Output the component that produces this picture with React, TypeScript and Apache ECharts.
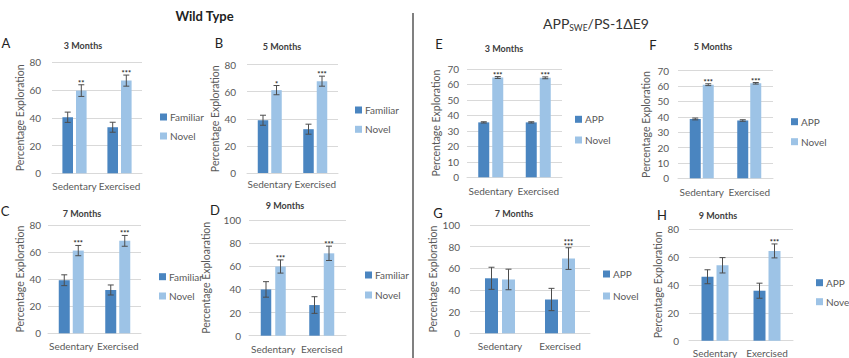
import React, { useEffect, useRef } from "react";
import * as echarts from "echarts";

const categories = ["Sedentary", "Exercised"];

// Wild Type panels
const aFamiliar = [40.4, 33.2];
const aFamiliarErr = [3.7, 3.6];
const aNovel = [59.6, 66.8];
const aNovelErr = [4.2, 4.0];
const aStars = ["**", "***"];

const bFamiliar = [38.9, 32.3];
const bFamiliarErr = [3.7, 3.7];
const bNovel = [61.1, 67.7];
const bNovelErr = [3.4, 3.7];
const bStars = ["*", "***"];

const cFamiliar = [39.2, 32.0];
const cFamiliarErr = [4.0, 3.7];
const cNovel = [61.1, 68.3];
const cNovelErr = [3.8, 4.0];
const cStars = ["***", "***"];

const dFamiliar = [40.0, 26.5];
const dFamiliarErr = [6.7, 7.2];
const dNovel = [59.8, 71.2];
const dNovelErr = [5.7, 6.2];
const dStars = ["***", "***"];

// APPswe/PS-1dE9 panels
const eApp = [35.5, 35.5];
const eAppErr = [0.4, 0.4];
const eNovel = [64.5, 64.3];
const eNovelErr = [0.6, 0.6];
const eStars = ["***", "***"];

const fApp = [38.6, 37.6];
const fAppErr = [0.6, 0.5];
const fNovel = [60.9, 61.8];
const fNovelErr = [0.6, 0.5];
const fStars = ["***", "***"];

const gApp = [50.8, 31.2];
const gAppErr = [10.2, 10.3];
const gNovel = [49.7, 69.0];
const gNovelErr = [9.5, 10.0];
const gStars = ["", "***\n***"];

const hApp = [45.8, 35.8];
const hAppErr = [5.0, 5.4];
const hNovel = [54.0, 64.3];
const hNovelErr = [5.5, 5.0];
const hStars = ["", "***"];

const panelLetters = ["A", "B", "C", "D", "E", "F", "G", "H"];
const panelTitles = ["3 Months", "5 Months", "7 Months", "9 Months", "3 Months", "5 Months", "7 Months", "9 Months"];
const yNames = [
  "Percentage Exploration",
  "Percentage Exploration",
  "Percentage Exploration",
  "Percentage Exploaration",
  "Percentage Exploration",
  "Percentage Exploration",
  "Percentage Exploration",
  "Percentage Exploration",
];
const yMax = [80, 80, 80, 100, 70, 70, 100, 80];
const yStep = [20, 20, 20, 20, 10, 10, 20, 20];

const wtHeader = "Wild Type";

const panels = [
  { dark: "Familiar", dv: aFamiliar, de: aFamiliarErr, nv: aNovel, ne: aNovelErr, stars: aStars },
  { dark: "Familiar", dv: bFamiliar, de: bFamiliarErr, nv: bNovel, ne: bNovelErr, stars: bStars },
  { dark: "Familiar", dv: cFamiliar, de: cFamiliarErr, nv: cNovel, ne: cNovelErr, stars: cStars },
  { dark: "Familiar", dv: dFamiliar, de: dFamiliarErr, nv: dNovel, ne: dNovelErr, stars: dStars },
  { dark: "APP", dv: eApp, de: eAppErr, nv: eNovel, ne: eNovelErr, stars: eStars },
  { dark: "APP", dv: fApp, de: fAppErr, nv: fNovel, ne: fNovelErr, stars: fStars },
  { dark: "APP", dv: gApp, de: gAppErr, nv: gNovel, ne: gNovelErr, stars: gStars },
  { dark: "APP", dv: hApp, de: hAppErr, nv: hNovel, ne: hNovelErr, stars: hStars },
];

// layout (positions/sizes only)
const layouts = [
  { grid: { left: 52, top: 62.3, width: 90, height: 111 }, bw: 10.6, gap: 3, ym: 11, ng: 25, xm: 8, letter: [6, 43], title: [83, 45], legend: { left: 160, top: 111, itemGap: 7 } },
  { grid: { left: 247, top: 64.5, width: 91, height: 108.5 }, bw: 10.5, gap: 3, ym: 11, ng: 26, xm: 6, letter: [219, 43], title: [282, 46], legend: { left: 355, top: 104, itemGap: 7.3 } },
  { grid: { left: 48, top: 225, width: 93, height: 108.3 }, bw: 11, gap: 3, ym: 7, ng: 22, xm: 8, letter: [5, 211], title: [82, 213], legend: { left: 159, top: 270.7, itemGap: 7.3 } },
  { grid: { left: 249, top: 220, width: 97, height: 115.7 }, bw: 10.5, gap: 4, ym: 8, ng: 38, xm: 8, letter: [215, 210], title: [285, 205], legend: { left: 365, top: 269, itemGap: 8 } },
  { grid: { left: 467, top: 69, width: 95, height: 108.3 }, bw: 11, gap: 3, ym: 8, ng: 26, xm: 9, letter: [439, 44], title: [504, 48], legend: { left: 575, top: 113.3, itemGap: 8.7 } },
  { grid: { left: 678, top: 70.7, width: 95, height: 107.6 }, bw: 11, gap: 2, ym: 9, ng: 27, xm: 9, letter: [653, 45], title: [713, 46], legend: { left: 791, top: 115.7, itemGap: 8 } },
  { grid: { left: 470, top: 225, width: 120, height: 108.3 }, bw: 13, gap: 4, ym: 10, ng: 29, xm: 8, letter: [438, 213], title: [514, 213], legend: { left: 603, top: 268, itemGap: 10 } },
  { grid: { left: 689, top: 229, width: 104, height: 111.7 }, bw: 12, gap: 3, ym: 10, ng: 26, xm: 7, letter: [662, 215], title: [718, 215], legend: { left: 816, top: 276.7, itemGap: 7 } },
];

const DARK = "#4A85C0";
const LIGHT = "#9DC3E6";
const TXT = "#595959";
const GRIDC = "#D9D9D9";
const FONT = "Lato";

function buildOption() {
  const grids: any[] = [];
  const xAxes: any[] = [];
  const yAxes: any[] = [];
  const series: any[] = [];
  const legends: any[] = [];
  const graphics: any[] = [];

  panels.forEach((p, i) => {
    const L = layouts[i];
    grids.push({ ...L.grid, containLabel: false });
    xAxes.push({
      type: "category",
      gridIndex: i,
      data: categories,
      axisLine: { show: true, lineStyle: { color: GRIDC, width: 1 } },
      axisTick: { show: false },
      axisLabel: { interval: 0, color: TXT, fontSize: 10, fontFamily: FONT, margin: L.xm },
      splitLine: { show: false },
    });
    yAxes.push({
      type: "value",
      gridIndex: i,
      min: 0,
      max: yMax[i],
      interval: yStep[i],
      axisLine: { show: false },
      axisTick: { show: false },
      axisLabel: { color: TXT, fontSize: 10, fontFamily: FONT, margin: L.ym },
      splitLine: { show: true, lineStyle: { color: GRIDC, width: 1 } },
      name: yNames[i],
      nameLocation: "middle",
      nameGap: L.ng,
      nameTextStyle: { color: TXT, fontSize: 10.5, fontFamily: FONT },
    });
    const gapPct = (L.gap / L.bw) * 100 + "%";
    series.push({
      type: "bar",
      name: p.dark,
      xAxisIndex: i,
      yAxisIndex: i,
      data: p.dv,
      barWidth: L.bw,
      barGap: gapPct,
      itemStyle: { color: DARK },
    });
    series.push({
      type: "bar",
      name: "Novel",
      xAxisIndex: i,
      yAxisIndex: i,
      data: p.nv,
      barWidth: L.bw,
      barGap: gapPct,
      itemStyle: { color: LIGHT },
    });
    const errData: number[][] = [];
    const vals = [p.dv, p.nv];
    const errs = [p.de, p.ne];
    for (let s = 0; s < 2; s++) {
      for (let c = 0; c < 2; c++) {
        errData.push([c, vals[s][c], errs[s][c], s]);
      }
    }
    const stars = p.stars;
    const half = (L.bw + L.gap) / 2;
    series.push({
      type: "custom",
      xAxisIndex: i,
      yAxisIndex: i,
      data: errData,
      encode: { x: 0, y: 1 },
      z: 10,
      silent: true,
      renderItem: (params: any, api: any) => {
        const c = api.value(0);
        const v = api.value(1);
        const e = api.value(2);
        const s = api.value(3);
        const base = api.coord([c, v]);
        const x = base[0] + (s === 0 ? -half : half);
        const yt = api.coord([c, v + e])[1];
        const yb = api.coord([c, v - e])[1];
        const cap = 3;
        const ls = { stroke: "#4D4D4D", lineWidth: 1 };
        const children: any[] = [
          { type: "line", shape: { x1: x, y1: yt, x2: x, y2: yb }, style: ls },
          { type: "line", shape: { x1: x - cap, y1: yt, x2: x + cap, y2: yt }, style: ls },
          { type: "line", shape: { x1: x - cap, y1: yb, x2: x + cap, y2: yb }, style: ls },
        ];
        const st = s === 1 ? stars[c] : "";
        if (st) {
          children.push({
            type: "text",
            x: x,
            y: yt + 0.5,
            style: {
              text: st,
              fill: "#262626",
              fontSize: 7.5,
              fontWeight: "bold",
              fontFamily: FONT,
              align: "center",
              verticalAlign: "bottom",
              lineHeight: 4,
            },
          });
        }
        return { type: "group", children };
      },
    });
    legends.push({
      orient: "vertical",
      left: L.legend.left,
      top: L.legend.top,
      itemGap: L.legend.itemGap,
      itemWidth: 7,
      itemHeight: 7,
      padding: 0,
      icon: "rect",
      data: [p.dark, "Novel"],
      textStyle: { color: TXT, fontSize: 10, fontFamily: FONT, lineHeight: 12, padding: [0, 0, 0, -2] },
    });
    graphics.push({
      type: "text",
      x: L.letter[0],
      y: L.letter[1],
      style: { text: panelLetters[i], fill: "#222", fontSize: 13, fontFamily: FONT, align: "center", verticalAlign: "middle" },
    });
    graphics.push({
      type: "text",
      x: L.title[0],
      y: L.title[1],
      style: { text: panelTitles[i], fill: "#404040", fontSize: 9, fontWeight: "bold", fontFamily: FONT, align: "center", verticalAlign: "middle" },
    });
  });

  graphics.push({
    type: "text",
    x: 204.5,
    y: 16,
    style: { text: wtHeader, fill: "#222", fontSize: 13, fontWeight: "bold", fontFamily: FONT, align: "center", verticalAlign: "middle" },
  });
  graphics.push({
    type: "text",
    x: 543,
    y: 23,
    style: {
      text: "{a|APP}{s|SWE}{a|/PS-1ΔE9}",
      align: "left",
      verticalAlign: "middle",
      rich: {
        a: { fontSize: 14, fontFamily: FONT, fill: "#333", lineHeight: 18, verticalAlign: "middle" },
        s: { fontSize: 8.5, fontFamily: FONT, fill: "#333", lineHeight: 10, verticalAlign: "bottom" },
      },
    },
  });
  graphics.push({
    type: "line",
    shape: { x1: 413, y1: 13, x2: 413, y2: 358 },
    style: { stroke: "#808080", lineWidth: 2 },
  });

  return {
    animation: false,
    backgroundColor: "#fff",
    textStyle: { fontFamily: FONT },
    grid: grids,
    xAxis: xAxes,
    yAxis: yAxes,
    series,
    legend: legends,
    graphic: graphics,
  };
}

export default function App() {
  const ref = useRef<HTMLDivElement>(null);
  useEffect(() => {
    const chart = echarts.init(ref.current!, null, { renderer: "svg" });
    chart.setOption(buildOption() as any);
    return () => chart.dispose();
  }, []);
  return (
    <div
      ref={ref}
      style={{ position: "absolute", left: 0, top: 0, width: 849, height: 358, background: "#fff" }}
    />
  );
}
